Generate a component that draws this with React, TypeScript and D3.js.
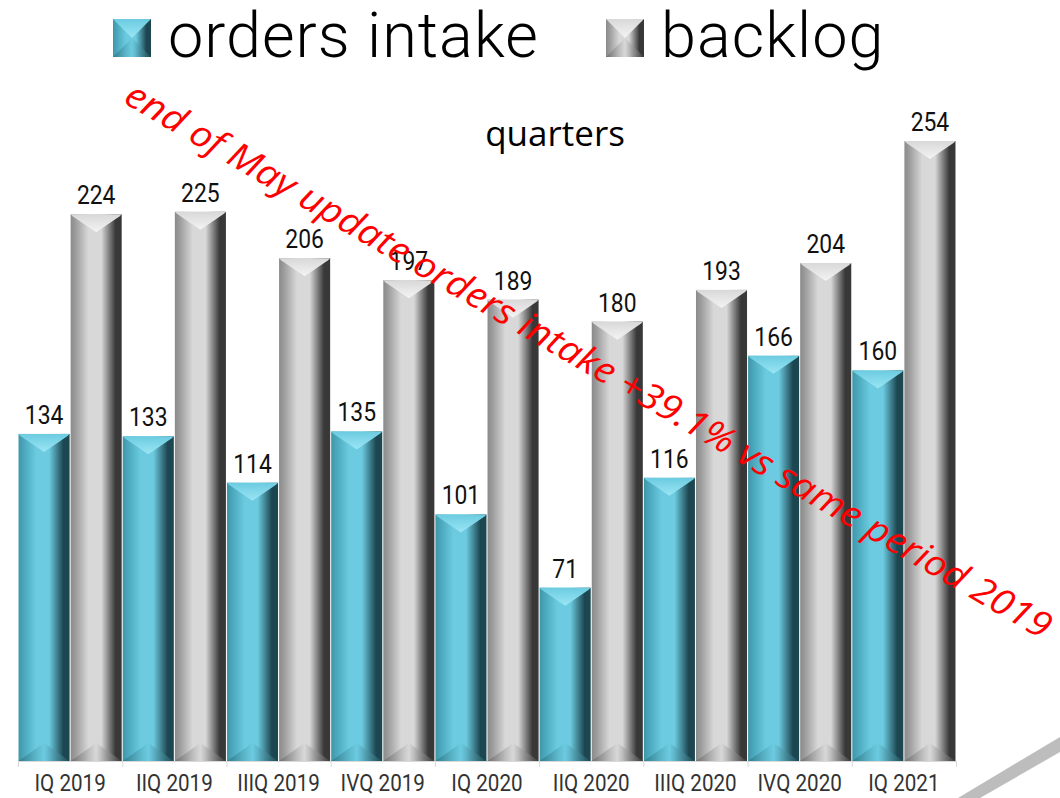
import React from "react";
import * as d3 from "d3";

const categories = ["IQ 2019", "IIQ 2019", "IIIQ 2019", "IVQ 2019", "IQ 2020", "IIQ 2020", "IIIQ 2020", "IVQ 2020", "IQ 2021"];
const ordersIntake = [134, 133, 114, 135, 101, 71, 116, 166, 160];
const backlog = [224, 225, 206, 197, 189, 180, 193, 204, 254];
const seriesNames = ["orders intake", "backlog"];
const chartTitle = "quarters";
const annotation = "end of May update orders intake +39.1% vs same period 2019";

const W = 1060;
const H = 798;
const baseY = 761;

export default function App() {
  const x = d3.scaleBand<string>().domain(categories).range([18, 956]).paddingInner(0).paddingOuter(0);
  const sub = d3.scaleBand<string>().domain(seriesNames).range([0, x.bandwidth()]).paddingInner(0.02).paddingOuter(0.01);
  const y = d3.scaleLinear().domain([0, 254]).range([baseY, 141]);

  const pal = [
    { edgeL: "#3f95a8", mid: "#6ccbe0", edgeR: "#1c4650", top: "#9ae6f5", bot: "#2f7c8c", sideL: "#4aa7bb" },
    { edgeL: "#8a8a8a", mid: "#d8d8d8", edgeR: "#383838", top: "#f4f4f4", bot: "#6e6e6e", sideL: "#9d9d9d" },
  ];

  const bar = (cat: string, v: number, si: number, key: string) => {
    const x0 = (x(cat) as number) + (sub(seriesNames[si]) as number);
    const w = sub.bandwidth();
    const top = y(v);
    const h = baseY - top;
    const b = Math.min(18, w * 0.36);
    const xc = x0 + w / 2;
    const x1 = x0 + w;
    return (
      <g key={key}>
        <rect x={x0} y={top} width={w} height={h} fill={`url(#g${si})`} />
        <polygon points={`${x0},${top} ${x1},${top} ${x1 - 2},${top + 2} ${xc},${top + b} ${x0 + 2},${top + 2}`} fill={`url(#t${si})`} />
        <polygon points={`${x0},${baseY} ${x1},${baseY} ${xc},${baseY - b}`} fill={`url(#b${si})`} />
        <text transform={`translate(${xc},${top - 10}) scale(0.88,1)`} textAnchor="middle" fontFamily="Roboto, 'Liberation Sans', sans-serif" fontSize={26} fill="#111">{v}</text>
      </g>
    );
  };

  return (
    <svg width={W} height={H} style={{ position: "absolute", left: 0, top: 0, background: "#fff" }}>
      <defs>
        {pal.map((p, i) => (
          <React.Fragment key={i}>
            <linearGradient id={`g${i}`} x1="0" x2="1" y1="0" y2="0">
              <stop offset="0" stopColor={p.edgeL} />
              <stop offset="0.1" stopColor={p.sideL} />
              <stop offset="0.35" stopColor={p.mid} />
              <stop offset="0.6" stopColor={p.mid} />
              <stop offset="0.88" stopColor={p.edgeR} />
              <stop offset="1" stopColor={p.edgeR} />
            </linearGradient>
            <linearGradient id={`t${i}`} x1="0" x2="0" y1="0" y2="1">
              <stop offset="0" stopColor={p.mid} />
              <stop offset="1" stopColor={p.top} />
            </linearGradient>
            <linearGradient id={`b${i}`} x1="0" x2="1" y1="0" y2="0">
              <stop offset="0" stopColor={p.bot} />
              <stop offset="0.5" stopColor={p.mid} stopOpacity={0.8} />
              <stop offset="1" stopColor={p.edgeR} />
            </linearGradient>
          </React.Fragment>
        ))}
      </defs>

      {/* legend */}
      {seriesNames.map((n, i) => {
        const lx = i === 0 ? 113 : 606;
        const s = 38;
        const ly = 19;
        return (
          <g key={n}>
            <rect x={lx} y={ly} width={s} height={s} fill={`url(#g${i})`} />
            <polygon points={`${lx},${ly} ${lx + s},${ly} ${lx + s / 2},${ly + s / 2}`} fill={`url(#t${i})`} />
            <polygon points={`${lx},${ly + s} ${lx + s},${ly + s} ${lx + s / 2},${ly + s / 2}`} fill={`url(#b${i})`} />
            <text x={lx + s + 17} y={57} fontFamily="Roboto, sans-serif" fontWeight={300} fontSize={63} letterSpacing={1} fill="#000">{n}</text>
          </g>
        );
      })}

      <text x={555} y={146} textAnchor="middle" fontFamily="'Open Sans', sans-serif" fontSize={35} fill="#000">{chartTitle}</text>

      {categories.map((c, i) => (
        <g key={c}>
          {bar(c, ordersIntake[i], 0, c + "o")}
          {bar(c, backlog[i], 1, c + "b")}
        </g>
      ))}

      {/* axis */}
      <line x1={18} x2={956} y1={baseY + 0.5} y2={baseY + 0.5} stroke="#d9d9d9" strokeWidth={1} />
      {[...categories.map((c) => x(c) as number), 956].map((t, i) => (
        <line key={i} x1={t + 0.5} x2={t + 0.5} y1={baseY} y2={baseY + 6} stroke="#d9d9d9" />
      ))}
      {categories.map((c) => (
        <text key={c + "l"} transform={`translate(${(x(c) as number) + x.bandwidth() / 2},791) scale(0.86,1)`} textAnchor="middle" fontFamily="Roboto, sans-serif" fontSize={24} fill="#333">{c}</text>
      ))}

      {/* decorative stripe */}
      <polygon points="958,798 980,798 1060,752 1060,737" fill="#bdbdbd" />

      <text x={122} y={102} transform="rotate(30.3 122 102)" fontFamily="'Open Sans', sans-serif" fontStyle="italic" fontSize={36} textLength={1066} lengthAdjust="spacingAndGlyphs" fill="#ff0000">{annotation}</text>
    </svg>
  );
}
